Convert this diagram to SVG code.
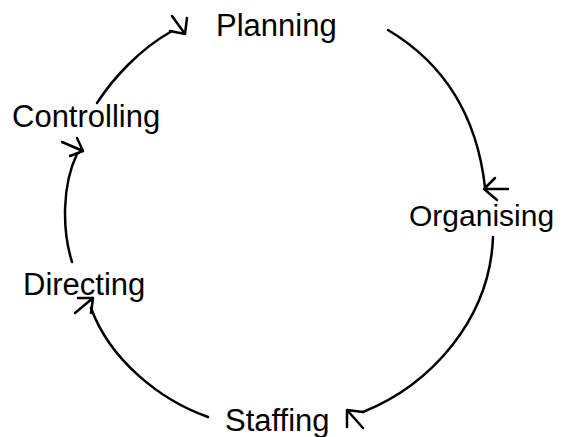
<svg xmlns="http://www.w3.org/2000/svg" width="565" height="437" viewBox="0 0 565 437">
<style>
.lbl{font-family:"Liberation Sans",Arial,sans-serif;font-size:31px;fill:#000}
.ln{fill:none;stroke:#000;stroke-width:2.5;stroke-linecap:round;stroke-linejoin:round}
</style>
<rect width="565" height="437" fill="#fff"/>
<g id="connectors">
<path class="ln" d="M388,30 C430,55 475,100 485,187"/>
<path class="ln" d="M495,178 L484,189 L497,200 M484,189 L508,189"/>
<path class="ln" d="M493,237 C490,320 430,385 363,412"/>
<path class="ln" d="M363,412 L347,410 L347,427 M347,410 L363,428"/>
<path class="ln" d="M208,417 C160,400 110,360 91,308"/>
<path class="ln" d="M78,298 L93,298 L91,313 M93,298 L75,313"/>
<path class="ln" d="M72,262 C62,230 62,185 77,154"/>
<path class="ln" d="M77,138 L83,151 L70,156 M83,151 L62,142"/>
<path class="ln" d="M97,103 C112,80 138,50 172,31"/>
<path class="ln" d="M187,18 L185,34 L170,31 M185,34 L172,16"/>
</g>
<g id="planning"><text class="lbl" x="216" y="36">Planning</text></g>
<g id="organising"><text class="lbl" x="409" y="226" style="font-size:30px">Organising</text></g>
<g id="staffing"><text class="lbl" x="225" y="431">Staffing</text></g>
<g id="directing"><text class="lbl" x="23" y="295">Directing</text></g>
<g id="controlling"><text class="lbl" x="12" y="127">Controlling</text></g>
</svg>
